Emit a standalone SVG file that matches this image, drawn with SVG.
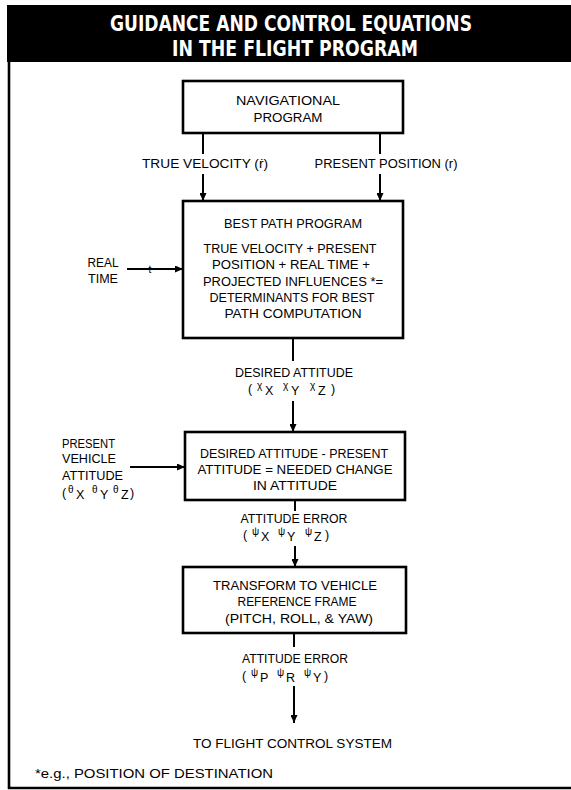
<svg xmlns="http://www.w3.org/2000/svg" width="571" height="790" viewBox="0 0 571 790">
<style>
.t{font-family:"Liberation Sans",Arial,sans-serif;font-size:12.5px;fill:#000;}
.s{font-size:10px;}
.title{font-family:"DejaVu Sans Condensed","Liberation Sans Narrow","DejaVu Sans",sans-serif;font-weight:bold;font-size:22px;fill:#fff;}
.box{fill:#fff;stroke:#000;stroke-width:2.6;}
.ln{stroke:#000;stroke-width:2;fill:none;}
.arr{marker-end:url(#ah);}
</style>
<defs>
<marker id="ah" markerUnits="userSpaceOnUse" markerWidth="8" markerHeight="7" refX="8" refY="3.5" orient="auto">
<path d="M0,0 L8,3.5 L0,7 z" fill="#000"/>
</marker>
</defs>
<rect width="571" height="790" fill="#fff"/>
<g id="frame">
<rect x="7" y="5" width="564" height="57" fill="#000"/>
<text class="title" x="291" y="31" text-anchor="middle" textLength="362" lengthAdjust="spacingAndGlyphs">GUIDANCE AND CONTROL EQUATIONS</text>
<text class="title" x="295" y="56" text-anchor="middle" textLength="246" lengthAdjust="spacingAndGlyphs">IN THE FLIGHT PROGRAM</text>
<line x1="9" y1="60" x2="9" y2="789" stroke="#000" stroke-width="2.6"/>
<line x1="8" y1="788" x2="571" y2="788" stroke="#000" stroke-width="2.6"/>
</g>
<g id="connectors">
<line class="ln" x1="203" y1="133" x2="203" y2="154"/>
<line class="ln arr" x1="203" y1="174" x2="203" y2="201"/>
<line class="ln" x1="380" y1="133" x2="380" y2="154"/>
<line class="ln arr" x1="380" y1="174" x2="380" y2="201"/>
<line class="ln arr" x1="127" y1="269" x2="183" y2="269"/>
<line class="ln" x1="293" y1="338" x2="293" y2="361"/>
<line class="ln arr" x1="293" y1="401" x2="293" y2="432"/>
<line class="ln arr" x1="130" y1="467" x2="185" y2="467"/>
<line class="ln" x1="295" y1="500" x2="295" y2="511"/>
<line class="ln arr" x1="295" y1="546" x2="295" y2="567"/>
<line class="ln" x1="294" y1="633" x2="294" y2="647"/>
<line class="ln arr" x1="294" y1="686" x2="294" y2="723"/>
</g>
<g id="nav">
<rect class="box" x="183" y="81" width="220" height="52"/>
<text class="t" x="288" y="105" text-anchor="middle" textLength="104" lengthAdjust="spacingAndGlyphs">NAVIGATIONAL</text>
<text class="t" x="288" y="122" text-anchor="middle" textLength="69" lengthAdjust="spacingAndGlyphs">PROGRAM</text>
</g>
<g id="label-velocity">
<text class="t" x="205" y="168" text-anchor="middle" textLength="126" lengthAdjust="spacingAndGlyphs">TRUE VELOCITY  (ṙ)</text>
</g>
<g id="label-position">
<text class="t" x="386" y="168" text-anchor="middle" textLength="143" lengthAdjust="spacingAndGlyphs">PRESENT POSITION (r)</text>
</g>
<g id="bestpath">
<rect class="box" x="183" y="201" width="220" height="137"/>
<text class="t" x="293" y="227.5" text-anchor="middle" textLength="138" lengthAdjust="spacingAndGlyphs">BEST PATH PROGRAM</text>
<text class="t" x="290" y="252.5" text-anchor="middle" textLength="173" lengthAdjust="spacingAndGlyphs">TRUE VELOCITY + PRESENT</text>
<text class="t" x="291" y="269" text-anchor="middle" textLength="158" lengthAdjust="spacingAndGlyphs">POSITION + REAL TIME +</text>
<text class="t" x="293" y="285.5" text-anchor="middle" textLength="180" lengthAdjust="spacingAndGlyphs">PROJECTED INFLUENCES *=</text>
<text class="t" x="292" y="302" text-anchor="middle" textLength="165" lengthAdjust="spacingAndGlyphs">DETERMINANTS FOR BEST</text>
<text class="t" x="293" y="318" text-anchor="middle" textLength="137" lengthAdjust="spacingAndGlyphs">PATH COMPUTATION</text>
</g>
<g id="realtime">
<text class="t" x="103" y="266.5" text-anchor="middle" textLength="31" lengthAdjust="spacingAndGlyphs">REAL</text>
<text class="t" x="103" y="282.5" text-anchor="middle" textLength="30" lengthAdjust="spacingAndGlyphs">TIME</text>
<text class="t s" x="150" y="272.5" text-anchor="middle">t</text>
</g>
<g id="label-desired">
<text class="t" x="294" y="376.5" text-anchor="middle" textLength="118" lengthAdjust="spacingAndGlyphs">DESIRED ATTITUDE</text>
<text class="t" y="393"><tspan x="248">(</tspan><tspan class="s" x="257" y="389">χ</tspan><tspan x="265" y="395">X</tspan><tspan class="s" x="283" y="389">χ</tspan><tspan x="291" y="395">Y</tspan><tspan class="s" x="310" y="389">χ</tspan><tspan x="318" y="395">Z</tspan><tspan x="331" y="393">)</tspan></text>
</g>
<g id="attitude">
<rect class="box" x="185" y="432" width="220" height="68"/>
<text class="t" x="294" y="457.5" text-anchor="middle" textLength="188" lengthAdjust="spacingAndGlyphs">DESIRED ATTITUDE - PRESENT</text>
<text class="t" x="295" y="473.5" text-anchor="middle" textLength="195" lengthAdjust="spacingAndGlyphs">ATTITUDE = NEEDED CHANGE</text>
<text class="t" x="295" y="489.5" text-anchor="middle" textLength="84" lengthAdjust="spacingAndGlyphs">IN ATTITUDE</text>
</g>
<g id="present-vehicle">
<text class="t" x="62" y="447.5" textLength="53" lengthAdjust="spacingAndGlyphs">PRESENT</text>
<text class="t" x="62" y="463" textLength="54" lengthAdjust="spacingAndGlyphs">VEHICLE</text>
<text class="t" x="62" y="479.5" textLength="61" lengthAdjust="spacingAndGlyphs">ATTITUDE</text>
<text class="t" y="497"><tspan x="62">(</tspan><tspan class="s" x="68" y="493">θ</tspan><tspan x="76" y="499">X</tspan><tspan class="s" x="92" y="493">θ</tspan><tspan x="100" y="499">Y</tspan><tspan class="s" x="113" y="493">θ</tspan><tspan x="121" y="499">Z</tspan><tspan x="130" y="497">)</tspan></text>
</g>
<g id="label-error1">
<text class="t" x="294" y="522.5" text-anchor="middle" textLength="107" lengthAdjust="spacingAndGlyphs">ATTITUDE ERROR</text>
<text class="t" y="539"><tspan x="243">(</tspan><tspan class="s" x="252" y="535">ψ</tspan><tspan x="261" y="541">X</tspan><tspan class="s" x="278" y="535">ψ</tspan><tspan x="287" y="541">Y</tspan><tspan class="s" x="305" y="535">ψ</tspan><tspan x="314" y="541">Z</tspan><tspan x="325" y="539">)</tspan></text>
</g>
<g id="transform">
<rect class="box" x="183" y="567" width="223" height="66"/>
<text class="t" x="295" y="589.5" text-anchor="middle" textLength="164" lengthAdjust="spacingAndGlyphs">TRANSFORM TO VEHICLE</text>
<text class="t" x="297" y="605.5" text-anchor="middle" textLength="119" lengthAdjust="spacingAndGlyphs">REFERENCE FRAME</text>
<text class="t" x="299" y="622.5" text-anchor="middle" textLength="148" lengthAdjust="spacingAndGlyphs">(PITCH, ROLL, &amp; YAW)</text>
</g>
<g id="label-error2">
<text class="t" x="295" y="662.5" text-anchor="middle" textLength="106" lengthAdjust="spacingAndGlyphs">ATTITUDE ERROR</text>
<text class="t" y="680"><tspan x="242">(</tspan><tspan class="s" x="251" y="676">ψ</tspan><tspan x="260" y="682">P</tspan><tspan class="s" x="277" y="676">ψ</tspan><tspan x="286" y="682">R</tspan><tspan class="s" x="304" y="676">ψ</tspan><tspan x="313" y="682">Y</tspan><tspan x="324" y="680">)</tspan></text>
</g>
<g id="flight-control">
<text class="t" x="292.5" y="747.5" text-anchor="middle" textLength="199" lengthAdjust="spacingAndGlyphs">TO FLIGHT CONTROL SYSTEM</text>
</g>
<g id="footnote">
<text class="t" x="35" y="777.5" textLength="238" lengthAdjust="spacingAndGlyphs">*e.g., POSITION OF DESTINATION</text>
</g>
</svg>
